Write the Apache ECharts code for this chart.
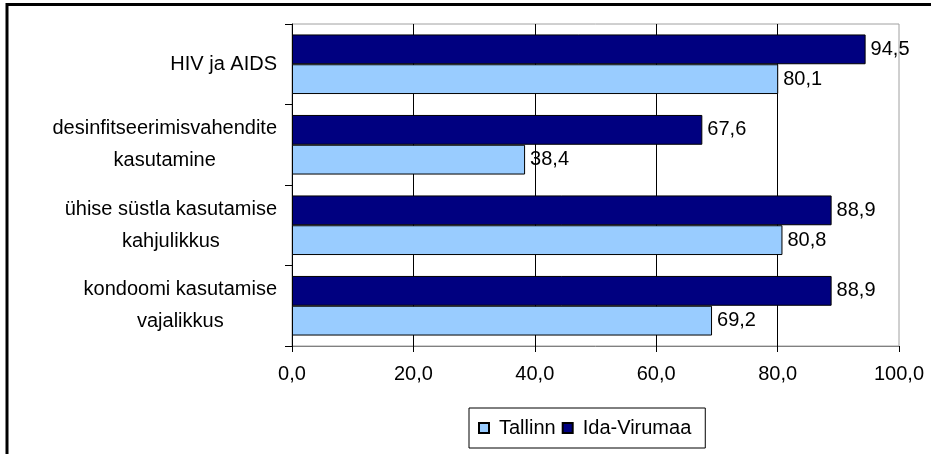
<!DOCTYPE html>
<html>
<head>
<meta charset="utf-8">
<script src="https://cdn.jsdelivr.net/npm/echarts@6/dist/echarts.min.js"></script>
<style>
html,body{margin:0;padding:0;background:#fff;}
#c{width:931px;height:454px;}
</style>
</head>
<body>
<div id="c"></div>
<script>
const categories = ['HIV ja AIDS', 'desinfitseerimisvahendite\nkasutamine', 'ühise süstla kasutamise\nkahjulikkus', 'kondoomi kasutamise\nvajalikkus'];
const tallinn = [80.1, 38.4, 80.8, 69.2];
const idaVirumaa = [94.5, 67.6, 88.9, 88.9];
const seriesNames = ['Tallinn', 'Ida-Virumaa'];
const xMin = 0, xMax = 100, xStep = 20;

const FONT = '"Liberation Sans", Arial, sans-serif';
const fmt = v => Number(v).toFixed(1).replace('.', ',');

const chart = echarts.init(document.getElementById('c'), null, {renderer: 'canvas'});
chart.setOption({
  animation: false,
  backgroundColor: '#fff',
  textStyle: {fontFamily: FONT, color: '#000'},
  graphic: [{
    type: 'polyline',
    shape: {points: [[7, 454], [7, 4.5], [931, 4.5]]},
    style: {stroke: '#000', lineWidth: 3, fill: null},
    silent: true
  }],
  grid: {left: 292, right: 32, top: 24, bottom: 108, show: true, borderColor: '#a0a0a0', borderWidth: 1, backgroundColor: 'transparent'},
  legend: {
    data: seriesNames,
    left: 469, top: 408,
    orient: 'horizontal',
    padding: [10, 14, 10, 9],
    itemWidth: 10, itemHeight: 10, itemGap: 6,
    borderColor: '#000', borderWidth: 1,
    icon: 'rect',
    textStyle: {fontFamily: FONT, fontSize: 20, color: '#000', padding: [0, 0, 0, 5]}
  },
  xAxis: {
    type: 'value', min: xMin, max: xMax, interval: xStep,
    axisLine: {show: true, lineStyle: {color: '#808080', width: 1}},
    axisTick: {show: true, length: 6, lineStyle: {color: '#000'}},
    axisLabel: {formatter: fmt, fontSize: 20, color: '#000', fontFamily: FONT, margin: 18},
    splitLine: {show: true, showMinLine: false, showMaxLine: false, lineStyle: {color: '#000', width: 1}}
  },
  yAxis: {
    type: 'category', data: categories, inverse: true,
    axisLine: {show: true, lineStyle: {color: '#000', width: 1}},
    axisTick: {show: true, length: 7, lineStyle: {color: '#000'}},
    axisLabel: {
      margin: 15, fontFamily: FONT, fontSize: 20, color: '#000', align: 'right',
      formatter: v => v.split('\n').map(l => '{c|' + l + '}').join('\n'),
      rich: {c: {align: 'center', fontSize: 20, fontFamily: FONT, color: '#000', lineHeight: 32}}
    },
    splitLine: {show: false}
  },
  series: [
    {
      name: 'Ida-Virumaa', type: 'bar', data: idaVirumaa,
      barGap: '0%', barCategoryGap: '26%',
      itemStyle: {color: '#000080', borderColor: '#000', borderWidth: 1},
      label: {show: true, position: 'right', distance: 5, formatter: p => fmt(p.value), fontSize: 20, fontFamily: FONT, color: '#000'}
    },
    {
      name: 'Tallinn', type: 'bar', data: tallinn,
      barGap: '0%', barCategoryGap: '26%',
      itemStyle: {color: '#99CCFF', borderColor: '#000', borderWidth: 1},
      label: {show: true, position: 'right', distance: 5, formatter: p => fmt(p.value), fontSize: 20, fontFamily: FONT, color: '#000'}
    }
  ]
});
</script>
</body>
</html>
